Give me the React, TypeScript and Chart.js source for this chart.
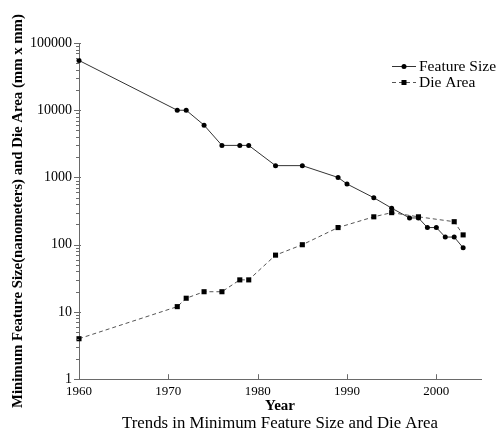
import React, { useEffect, useRef } from "react";
import { Chart, registerables } from "chart.js";

Chart.register(...registerables);

const featureYears = [1960, 1971, 1972, 1974, 1976, 1978, 1979, 1982, 1985, 1989, 1990, 1993, 1995, 1997, 1998, 1999, 2000, 2001, 2002, 2003];
const featureSizes = [55000, 10000, 10000, 6000, 3000, 3000, 3000, 1500, 1500, 1000, 800, 500, 350, 250, 250, 180, 180, 130, 130, 90];

const dieYears = [1960, 1971, 1972, 1974, 1976, 1978, 1979, 1982, 1985, 1989, 1993, 1995, 1998, 2002, 2003];
const dieAreas = [4, 12, 16, 20, 20, 30, 30, 70, 100, 180, 260, 300, 260, 220, 140];

const xTickValues = [1960, 1970, 1980, 1990, 2000];
const yTickValues = [1, 10, 100, 1000, 10000, 100000];
const yTickLabels = ["1", "10", "100", "1000", "10000", "100000"];

const seriesNames = ["Feature Size", "Die Area"];
const xTitle = "Year";
const yTitle = "Minimum Feature Size(nanometers) and Die Area (mm x mm)";
const chartTitle = "Trends in Minimum Feature Size and Die Area";

const SERIF = '"Liberation Serif", "Times New Roman", serif';
const AXIS = "#6a6a6a";

const tickPlugin = {
  id: "tickMarks",
  afterDraw(chart: any) {
    const ctx = chart.ctx;
    const x = chart.scales.x;
    const y = chart.scales.y;
    const area = chart.chartArea;
    ctx.save();
    ctx.strokeStyle = AXIS;
    ctx.lineWidth = 1;
    ctx.beginPath();
    for (let i = 0; i < yTickValues.length; i++) {
      const v = yTickValues[i];
      const py = Math.round(y.getPixelForValue(v)) + 0.5;
      ctx.moveTo(area.left - 5, py);
      ctx.lineTo(area.left + 2, py);
      if (i < yTickValues.length - 1) {
        for (let m = 2; m <= 9; m++) {
          const pm = Math.round(y.getPixelForValue(v * m)) + 0.5;
          ctx.moveTo(area.left - 3, pm);
          ctx.lineTo(area.left, pm);
        }
      }
    }
    for (const v of xTickValues) {
      const px = Math.round(x.getPixelForValue(v)) + 0.5;
      ctx.moveTo(px, area.bottom);
      ctx.lineTo(px, area.bottom - 5);
    }
    ctx.stroke();

    const lx0 = 392;
    const lx1 = 416;
    const rows = [66, 82];
    ctx.font = `15.5px ${SERIF}`;
    ctx.textBaseline = "middle";
    ctx.textAlign = "left";
    rows.forEach((ry, i) => {
      ctx.strokeStyle = i === 0 ? "#333" : "#555";
      ctx.setLineDash(i === 0 ? [] : [4, 3]);
      ctx.beginPath();
      ctx.moveTo(lx0, ry + 0.5);
      ctx.lineTo(lx1, ry + 0.5);
      ctx.stroke();
      ctx.setLineDash([]);
      ctx.fillStyle = "#000";
      const cx = (lx0 + lx1) / 2;
      if (i === 0) {
        ctx.beginPath();
        ctx.arc(cx, ry + 0.5, 2.5, 0, Math.PI * 2);
        ctx.fill();
      } else {
        ctx.fillRect(cx - 2.5, ry - 2, 5, 5);
      }
      ctx.fillText(seriesNames[i], 419, ry + 1);
    });
    ctx.restore();
  },
};

export default function App() {
  const ref = useRef<HTMLCanvasElement | null>(null);

  useEffect(() => {
    if (!ref.current) return;
    const chart = new Chart(ref.current, {
      type: "line",
      data: {
        datasets: [
          {
            label: seriesNames[0],
            data: featureYears.map((yr, i) => ({ x: yr, y: featureSizes[i] })),
            borderColor: "#333",
            borderWidth: 1,
            pointStyle: "circle",
            pointRadius: 2.5,
            pointBackgroundColor: "#000",
            pointBorderColor: "#000",
            pointBorderWidth: 0,
            tension: 0,
            clip: false,
          },
          {
            label: seriesNames[1],
            data: dieYears.map((yr, i) => ({ x: yr, y: dieAreas[i] })),
            borderColor: "#555",
            borderWidth: 1,
            borderDash: [4, 3],
            pointStyle: "rect",
            pointRadius: 3.6,
            pointBackgroundColor: "#000",
            pointBorderColor: "#000",
            pointBorderWidth: 0,
            tension: 0,
            clip: false,
          },
        ],
      },
      options: {
        animation: false,
        responsive: false,
        maintainAspectRatio: false,
        layout: { padding: { top: 43, right: 23, left: 9, bottom: 0 } },
        plugins: {
          legend: { display: false },
          tooltip: { enabled: false },
          title: {
            display: true,
            position: "bottom",
            fullSize: false,
            text: chartTitle,
            color: "#000",
            font: { family: SERIF, size: 16.8, weight: "normal", lineHeight: 1.0 },
            padding: 0,
          },
        },
        scales: {
          x: {
            type: "linear",
            min: 1960,
            max: 2005,
            afterBuildTicks: (s: any) => {
              s.ticks = xTickValues.map((v) => ({ value: v }));
            },
            afterFit: (s: any) => {
              s.height = 36;
            },
            grid: { display: false, drawTicks: false },
            border: { display: true, color: AXIS, width: 1 },
            ticks: {
              color: "#000",
              font: { family: SERIF, size: 13 },
              padding: 5,
              autoSkip: false,
              maxRotation: 0,
              callback: (v: any) => String(v),
            },
            title: {
              display: true,
              text: xTitle,
              color: "#000",
              font: { family: SERIF, size: 15, weight: "bold" },
              padding: 0,
            },
          },
          y: {
            type: "logarithmic",
            min: 1,
            max: 100000,
            afterBuildTicks: (s: any) => {
              s.ticks = yTickValues.map((v) => ({ value: v, major: true }));
            },
            afterFit: (s: any) => {
              s.width = 70;
            },
            grid: { display: false, drawTicks: false },
            border: { display: true, color: AXIS, width: 1 },
            ticks: {
              color: "#000",
              font: { family: SERIF, size: 14 },
              padding: 7,
              autoSkip: false,
              callback: (v: any) => {
                const idx = yTickValues.indexOf(Number(v));
                return idx >= 0 ? yTickLabels[idx] : "";
              },
            },
            title: {
              display: true,
              text: yTitle,
              color: "#000",
              font: { family: SERIF, size: 14.8, weight: "bold" },
              padding: 0,
            },
          },
        },
      },
      plugins: [tickPlugin],
    });
    return () => chart.destroy();
  }, []);

  return (
    <div style={{ position: "fixed", left: 0, top: 0, width: 504, height: 432, background: "#fff" }}>
      <canvas ref={ref} width={504} height={432} style={{ width: 504, height: 432, display: "block" }} />
    </div>
  );
}
